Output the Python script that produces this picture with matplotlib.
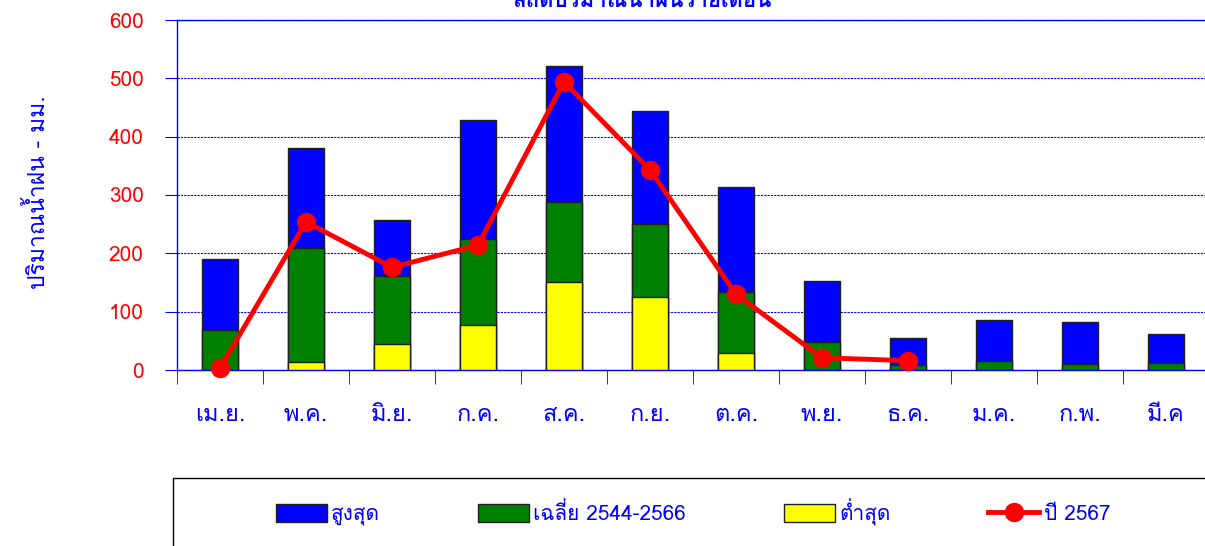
import numpy as np
import matplotlib
matplotlib.use("Agg")
import matplotlib.pyplot as plt
import matplotlib.patches as mpatches
from matplotlib.lines import Line2D
from matplotlib import font_manager
from matplotlib.ft2font import FT2Font

months = ["เม.ย.", "พ.ค.", "มิ.ย.", "ก.ค.", "ส.ค.", "ก.ย.",
          "ต.ค.", "พ.ย.", "ธ.ค.", "ม.ค.", "ก.พ.", "มี.ค"]
rain_max = [190, 381, 257, 429, 521, 444, 314, 153, 55, 85, 82, 61]
rain_avg = [68, 210, 162, 225, 288, 250, 134, 48, 8, 15, 10, 12]
rain_min = [0, 14, 45, 77, 151, 125, 29, 0, 0, 0, 0, 0]
rain_2567 = [3, 254, 176, 214, 494, 343, 130, 21, 16, np.nan, np.nan, np.nan]

title = "สถิติปริมาณน้ำฝนรายเดือน"
ylabel = "ปริมาณน้ำฝน - มม."
legend_labels = ["สูงสุด", "เฉลี่ย 2544-2566", "ต่ำสุด", "ปี 2567"]


def thai_family():
    # pick an installed font that actually has Thai glyphs
    for f in font_manager.fontManager.ttflist:
        try:
            if 0x0E01 in FT2Font(f.fname).get_charmap():
                return f.name
        except Exception:
            pass
    return "DejaVu Sans"


fam = thai_family()
plt.rcParams["font.family"] = [fam, "DejaVu Sans"]

W, H = 1205, 546
fig = plt.figure(figsize=(W / 100, H / 100), dpi=100)
ax = fig.add_axes([177 / W, 1 - 370 / H, 1032 / W, 350 / H])

x = np.arange(len(months))
bw = 0.41
ax.bar(x, rain_max, bw, color="#0000FF", edgecolor="#202020", lw=1, zorder=2)
ax.bar(x, rain_avg, bw, color="#008000", edgecolor="#202020", lw=1, zorder=3)
ax.bar(x, rain_min, bw, color="#FFFF00", edgecolor="#202020", lw=1, zorder=4)
ax.plot(x, rain_2567, "-o", color="#FF0000", lw=3.5, ms=13, zorder=5,
        clip_on=False)

ax.set_xlim(-0.5, len(months) - 0.5)
ax.set_ylim(0, 600)
ax.set_yticks(range(0, 601, 100))
ax.yaxis.grid(True, color="#0000FF", ls=(0, (2, 1)), lw=0.8)
ax.set_axisbelow(True)
for s in ax.spines.values():
    s.set_color("#0000FF")
    s.set_linewidth(1)

ax.tick_params(axis="y", colors="#0000FF", labelcolor="#FF0000",
               length=9, pad=15, labelsize=15)
ax.set_xticks(x)
ax.set_xticklabels(months)
ax.set_xticks(np.arange(-0.5, len(months), 1), minor=True)
ax.tick_params(axis="x", which="major", length=0, pad=24,
               labelcolor="#0000FF", labelsize=17)
ax.tick_params(axis="x", which="minor", length=10, color="#0000FF")

fig.text(38 / W, 1 - 192 / H, ylabel, rotation=90, color="#0000FF",
         fontsize=16.5, ha="center", va="center")
fig.text(642 / W, 1 - 7 / H, title, color="#0000FF", fontsize=16,
         fontweight="bold", ha="center", va="baseline")

# legend frame (cut off by the picture edge)
fig.add_artist(mpatches.Rectangle((173 / W, -0.1), 1, (H - 478) / H + 0.1,
                                  transform=fig.transFigure, fill=False,
                                  ec="black", lw=1))
handles = [
    mpatches.Patch(fc="#0000FF", ec="#202020"),
    mpatches.Patch(fc="#008000", ec="#202020"),
    mpatches.Patch(fc="#FFFF00", ec="#202020"),
    Line2D([], [], color="#FF0000", lw=3.5, marker="o", ms=13),
]
leg = fig.legend(handles, legend_labels, loc="center left",
                 bbox_to_anchor=(276 / W, 1 - 512 / H), ncol=4,
                 frameon=False, fontsize=15, borderpad=0, borderaxespad=0,
                 handlelength=2.45, handleheight=0.9, handletextpad=0.2,
                 columnspacing=4.7)
for t in leg.get_texts():
    t.set_color("#0000FF")

fig.savefig("out.png", dpi=100)
